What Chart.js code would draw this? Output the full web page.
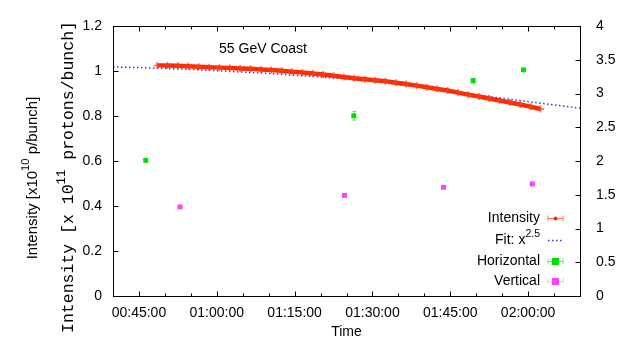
<!DOCTYPE html>
<html>
<head>
<meta charset="utf-8">
<script src="https://cdn.jsdelivr.net/npm/chart.js@4.4.1/dist/chart.umd.min.js"></script>
<style>
    html, body { margin: 0; padding: 0; background: #fff; }
    canvas { display: block; }
</style>
</head>
<body>
<canvas id="coastChart" width="618" height="338"></canvas>
<script>
// DATA

const intensityTimes = [
    "00:48:30", "00:50:30", "00:52:30", "00:54:30", "00:56:30", "00:58:30",
    "01:00:30", "01:02:30", "01:04:30", "01:06:30", "01:08:30", "01:10:30",
    "01:12:30", "01:14:30", "01:16:30", "01:18:30", "01:20:30", "01:22:30",
    "01:24:30", "01:26:30", "01:28:30", "01:30:30", "01:32:30", "01:34:30",
    "01:36:30", "01:38:30", "01:40:30", "01:42:30", "01:44:30", "01:46:30",
    "01:48:30", "01:50:30", "01:52:30", "01:54:30", "01:56:30", "01:58:30",
    "02:00:30", "02:02:24"
];
const intensityValues = [
    1.025, 1.024, 1.023, 1.021, 1.019, 1.017,
    1.015, 1.013, 1.011, 1.010, 1.007, 1.004,
    1.001, 0.997, 0.993, 0.989, 0.984, 0.979,
    0.973, 0.968, 0.963, 0.959, 0.955, 0.948,
    0.942, 0.935, 0.928, 0.920, 0.913, 0.904,
    0.895, 0.887, 0.878, 0.869, 0.860, 0.851,
    0.841, 0.831
];

const fitTimes = [
    "00:40:00", "00:45:00", "00:50:00", "00:55:00", "01:00:00", "01:05:00",
    "01:10:00", "01:15:00", "01:20:00", "01:25:00", "01:30:00", "01:35:00",
    "01:40:00", "01:45:00", "01:50:00", "01:55:00", "02:00:00", "02:05:00",
    "02:10:00"
];
const fitValues = [
    1.018, 1.015, 1.011, 1.007, 1.001, 0.995,
    0.989, 0.981, 0.973, 0.964, 0.953, 0.941,
    0.927, 0.912, 0.894, 0.879, 0.864, 0.849,
    0.835
];

// emittance-like values on the right axis
const horizontalTimes = ["00:46:18", "01:26:24", "01:49:24", "01:59:06"];
const horizontalValues = [2.01, 2.67, 3.19, 3.35];
const horizontalErrors = [0.01, 0.07, 0.04, 0.02];

const verticalTimes = ["00:52:54", "01:24:36", "01:43:42", "02:00:48"];
const verticalValues = [1.32, 1.49, 1.61, 1.66];
const verticalErrors = [0.01, 0.01, 0.01, 0.01];

const leftTicks = [0, 0.2, 0.4, 0.6, 0.8, 1, 1.2];
const rightTicks = [0, 0.5, 1, 1.5, 2, 2.5, 3, 3.5, 4];
const timeLabels = ["00:45:00", "01:00:00", "01:15:00", "01:30:00", "01:45:00", "02:00:00"];

const titleText = "55 GeV Coast";
const xTitle = "Time";

// HELPERS

function toSeconds(hms) {
    const p = hms.split(":").map(Number);
    return p[0] * 3600 + p[1] * 60 + p[2];
}

function toHms(sec) {
    const h = Math.floor(sec / 3600);
    const m = Math.floor((sec % 3600) / 60);
    const s = Math.round(sec % 60);
    return [h, m, s].map(v => String(v).padStart(2, "0")).join(":");
}

function pairs(times, values) {
    return times.map((t, i) => ({ x: toSeconds(t), y: values[i] }));
}

const labelSeconds = timeLabels.map(toSeconds);

const RED = "#ff2a00";
const BLUE = "#2b3fe0";
const GREEN = "#00e000";
const MAGENTA = "#ff40ff";
const SANS = "'Liberation Sans', Arial, sans-serif";
const MONO = "'Liberation Mono', 'Courier New', monospace";

// draw text made of pieces, some of them superscript, centred on (0,0)
function drawPieces(ctx, pieces, size, family, align) {
    let total = 0;
    const widths = pieces.map(p => {
        ctx.font = (p.sup ? size * 0.75 : size) + "px " + family;
        const w = ctx.measureText(p.t).width;
        total += w;
        return w;
    });
    let x = align === "right" ? -total : -total / 2;
    pieces.forEach((p, i) => {
        ctx.font = (p.sup ? size * 0.75 : size) + "px " + family;
        ctx.fillText(p.t, x, p.sup ? -size * 0.45 : 0);
        x += widths[i];
    });
}

// GNUPLOT-LIKE FRAME, TEXTS AND LEGEND

const framePlugin = {
    id: "frame",
    afterDatasetsDraw(chart) {
        const { ctx, scales } = chart;
        // error bars for the emittance points
        chart.data.datasets.forEach((ds, i) => {
            if (!ds.errors || !chart.isDatasetVisible(i)) return;
            const ys = scales[ds.yAxisID];
            ctx.save();
            ctx.strokeStyle = ds.backgroundColor;
            ctx.globalAlpha = 0.6;
            ctx.lineWidth = 1;
            ds.data.forEach((p, j) => {
                const px = scales.x.getPixelForValue(p.x);
                const top = ys.getPixelForValue(p.y + ds.errors[j]);
                const bot = ys.getPixelForValue(p.y - ds.errors[j]);
                ctx.beginPath();
                ctx.moveTo(px + 0.5, top); ctx.lineTo(px + 0.5, bot);
                ctx.moveTo(px - 1.5, top + 0.5); ctx.lineTo(px + 2.5, top + 0.5);
                ctx.moveTo(px - 1.5, bot - 0.5); ctx.lineTo(px + 2.5, bot - 0.5);
                ctx.stroke();
            });
            ctx.restore();
        });
    },
    afterDraw(chart) {
        const { ctx, chartArea: a, scales } = chart;
        ctx.save();
        ctx.strokeStyle = "#000";
        ctx.lineWidth = 1;
        const L = Math.round(a.left) + 0.5, R = Math.round(a.right) + 0.5;
        const T = Math.round(a.top) + 0.5, B = Math.round(a.bottom) + 0.5;
        ctx.strokeRect(L, T, R - L, B - T);

        ctx.beginPath();
        scales.x.ticks.forEach(t => {
            const px = Math.round(scales.x.getPixelForValue(t.value)) + 0.5;
            const len = t.value % 900 === 0 ? 5 : 3;
            ctx.moveTo(px, B); ctx.lineTo(px, B - len);
            ctx.moveTo(px, T); ctx.lineTo(px, T + len);
        });
        scales.y.ticks.forEach(t => {
            const py = Math.round(scales.y.getPixelForValue(t.value)) + 0.5;
            ctx.moveTo(L, py); ctx.lineTo(L + 5, py);
        });
        scales.y2.ticks.forEach(t => {
            const py = Math.round(scales.y2.getPixelForValue(t.value)) + 0.5;
            ctx.moveTo(R, py); ctx.lineTo(R - 5, py);
        });
        ctx.stroke();

        ctx.fillStyle = "#000";
        ctx.textBaseline = "middle";
        ctx.textAlign = "left";

        // title and x title
        ctx.font = "14px " + SANS;
        ctx.textAlign = "center";
        ctx.fillText(titleText, 263, 49);
        ctx.fillText(xTitle, (a.left + a.right) / 2, 332);

        // outer y title
        ctx.save();
        ctx.translate(33, 178);
        ctx.rotate(-Math.PI / 2);
        ctx.textAlign = "left";
        drawPieces(ctx, [{ t: "Intensity [x10" }, { t: "10", sup: true }, { t: " p/bunch]" }], 15, SANS);
        ctx.restore();

        // inner y title (monospace)
        ctx.save();
        ctx.translate(69, 177);
        ctx.rotate(-Math.PI / 2);
        ctx.textAlign = "left";
        drawPieces(ctx, [{ t: "Intensity [x 10" }, { t: "11", sup: true }, { t: " protons/bunch]" }], 16.5, MONO);
        ctx.restore();

        // legend
        const rows = [
            { pieces: [{ t: "Intensity" }], y: 218, kind: "int" },
            { pieces: [{ t: "Fit: x" }, { t: "2.5", sup: true }], y: 240, kind: "fit" },
            { pieces: [{ t: "Horizontal" }], y: 261, kind: "hor" },
            { pieces: [{ t: "Vertical" }], y: 281, kind: "ver" }
        ];
        rows.forEach(r => {
            ctx.save();
            ctx.translate(540, r.y);
            ctx.textAlign = "left";
            drawPieces(ctx, r.pieces, 14, SANS, "right");
            ctx.restore();

            const x0 = 548, x1 = 563, cy = r.y + 0.5;
            ctx.save();
            if (r.kind === "fit") {
                ctx.strokeStyle = BLUE;
                ctx.setLineDash([1.5, 2.5]);
                ctx.lineWidth = 1.5;
                ctx.beginPath(); ctx.moveTo(x0, cy); ctx.lineTo(x1, cy); ctx.stroke();
            } else {
                const col = r.kind === "int" ? RED : r.kind === "hor" ? GREEN : MAGENTA;
                ctx.strokeStyle = col;
                ctx.globalAlpha = 0.6;
                if (r.kind === "ver") ctx.setLineDash([1, 1]);
                ctx.beginPath();
                ctx.moveTo(x0, cy); ctx.lineTo(x1, cy);
                ctx.moveTo(x0, cy - 3); ctx.lineTo(x0, cy + 3);
                ctx.moveTo(x1, cy - 3); ctx.lineTo(x1, cy + 3);
                ctx.stroke();
                ctx.globalAlpha = 1;
                ctx.fillStyle = col;
                if (r.kind === "int") {
                    ctx.beginPath(); ctx.arc(555.5, cy, 2, 0, Math.PI * 2); ctx.fill();
                } else {
                    ctx.fillRect(552, cy - 3.5, 7, 7);
                }
            }
            ctx.restore();
        });
        ctx.restore();
    }
};

// CHART

new Chart(document.getElementById("coastChart"), {
    type: "scatter",
    data: {
        datasets: [
            {
                label: "Intensity",
                data: pairs(intensityTimes, intensityValues),
                yAxisID: "y",
                showLine: true,
                borderColor: RED,
                borderWidth: 4.5,
                backgroundColor: RED,
                pointStyle: "cross",
                pointRadius: 3.5,
                pointBorderWidth: 1.5,
                pointBorderColor: "rgba(255, 60, 20, 0.8)",
                tension: 0
            },
            {
                label: "Fit: x^2.5",
                data: pairs(fitTimes, fitValues),
                yAxisID: "y",
                showLine: true,
                borderColor: BLUE,
                borderWidth: 1.5,
                borderDash: [1.5, 2.5],
                pointRadius: 0,
                cubicInterpolationMode: "monotone"
            },
            {
                label: "Horizontal",
                data: pairs(horizontalTimes, horizontalValues),
                errors: horizontalErrors,
                yAxisID: "y2",
                backgroundColor: GREEN,
                borderColor: GREEN,
                pointStyle: "rect",
                pointRadius: 3.5,
                pointBorderWidth: 0
            },
            {
                label: "Vertical",
                data: pairs(verticalTimes, verticalValues),
                errors: verticalErrors,
                yAxisID: "y2",
                backgroundColor: MAGENTA,
                borderColor: MAGENTA,
                pointStyle: "rect",
                pointRadius: 3.5,
                pointBorderWidth: 0
            }
        ]
    },
    options: {
        responsive: false,
        animation: false,
        layout: { padding: { top: 26, left: 0, right: 0, bottom: 0 } },
        plugins: {
            legend: { display: false },
            tooltip: { enabled: false }
        },
        scales: {
            x: {
                type: "linear",
                min: toSeconds("00:40:00"),
                max: toSeconds("02:10:00"),
                grid: { display: false },
                border: { display: false },
                afterFit: s => { s.height = 42; },
                afterBuildTicks: s => {
                    const ticks = [];
                    for (let v = s.min; v <= s.max; v += 300) ticks.push({ value: v });
                    s.ticks = ticks;
                },
                ticks: {
                    autoSkip: false,
                    maxRotation: 0,
                    padding: 1,
                    color: "#000",
                    font: { family: SANS, size: 14 },
                    callback: v => labelSeconds.includes(v) ? toHms(v) : ""
                }
            },
            y: {
                position: "left",
                min: 0,
                max: 1.2,
                grid: { display: false },
                border: { display: false },
                afterFit: s => { s.width = 113; },
                afterBuildTicks: s => { s.ticks = leftTicks.map(v => ({ value: v })); },
                ticks: {
                    padding: 3,
                    color: "#000",
                    font: { family: SANS, size: 14 },
                    callback: v => String(+v.toFixed(1))
                }
            },
            y2: {
                position: "right",
                min: 0,
                max: 4,
                grid: { display: false },
                border: { display: false },
                afterFit: s => { s.width = 38; },
                afterBuildTicks: s => { s.ticks = rightTicks.map(v => ({ value: v })); },
                ticks: {
                    padding: 8,
                    color: "#000",
                    font: { family: SANS, size: 14 },
                    callback: v => String(+v.toFixed(1))
                }
            }
        }
    },
    plugins: [framePlugin]
});
</script>
</body>
</html>
